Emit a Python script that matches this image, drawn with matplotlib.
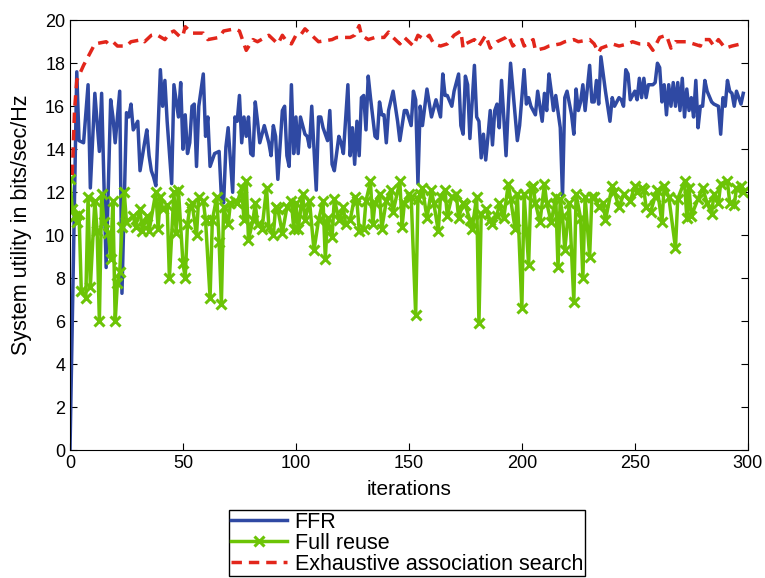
import matplotlib
matplotlib.use('Agg')
import matplotlib.pyplot as plt

plt.rcParams['font.family'] = ['Liberation Sans', 'DejaVu Sans']

# FFR (blue)
ffr_it = [0, 3, 4, 6, 8, 9, 11, 13, 14, 16, 18, 19, 20, 21, 22, 23, 25, 26, 27, 28,
          30, 31, 33, 34, 35, 36, 37, 38, 40, 41, 42, 43, 45, 46, 48, 49, 50, 51, 52, 53,
          54, 55, 56, 57, 59, 60, 61, 62, 64, 66, 67, 68, 69, 70, 72, 73, 74, 75, 76, 77,
          78, 79, 80, 81, 82, 83, 84, 86, 87, 88, 89, 90, 91, 92, 94, 95, 96, 97, 98, 99,
          100, 101, 102, 104, 105, 106, 107, 108, 109, 110, 111, 112, 114, 115, 116, 117, 119, 120, 121, 123,
          124, 125, 126, 127, 128, 129, 130, 131, 132, 133, 135, 136, 137, 138, 139, 140, 141, 143, 144, 145,
          146, 148, 149, 151, 152, 153, 154, 155, 156, 158, 160, 162, 164, 165, 166, 167, 169, 170, 172, 173,
          174, 175, 176, 177, 179, 180, 181, 182, 183, 184, 185, 186, 187, 188, 189, 190, 191, 192, 193, 194,
          195, 196, 198, 199, 201, 202, 203, 204, 206, 207, 209, 210, 211, 212, 213, 214, 215, 217, 218, 219,
          220, 222, 223, 224, 225, 226, 227, 228, 230, 231, 232, 233, 234, 235, 237, 239, 240, 241, 243, 244,
          245, 246, 247, 248, 250, 251, 252, 253, 254, 255, 256, 258, 259, 260, 261, 262, 263, 264, 265, 266,
          267, 268, 269, 270, 271, 272, 273, 274, 275, 276, 277, 278, 279, 280, 281, 282, 284, 285, 287, 288,
          289, 290, 291, 292, 293, 294, 295, 296, 297, 298]
ffr_val = [0, 17.6, 14.4, 14.3, 17.0, 12.2, 16.6, 13.9, 16.6, 8.5, 16.3, 15.5, 14.3, 15.5, 16.7, 7.3, 15.7, 15.5, 16.1, 14.9,
           15.3, 13.0, 14.3, 14.9, 13.7, 13.0, 12.7, 12.3, 17.7, 16.0, 17.2, 15.3, 12.4, 17.0, 15.5, 17.1, 14.0, 15.6, 13.8, 14.3,
           16.0, 16.1, 13.2, 16.0, 17.5, 14.6, 15.5, 13.2, 13.8, 13.9, 11.8, 11.5, 14.1, 15.0, 12.0, 15.5, 15.3, 16.5, 14.3, 15.5,
           14.6, 15.5, 13.8, 13.7, 16.2, 15.3, 14.3, 15.1, 14.7, 14.3, 13.7, 15.1, 14.6, 12.6, 15.8, 16.0, 13.7, 13.2, 17.0, 13.8,
           15.5, 13.8, 15.5, 14.7, 14.6, 14.1, 16.0, 14.0, 12.1, 15.5, 15.5, 15.0, 14.4, 15.8, 13.3, 13.0, 14.6, 14.3, 13.8, 17.0,
           13.7, 15.0, 13.3, 15.3, 13.7, 16.4, 16.5, 14.9, 17.4, 16.4, 14.6, 14.5, 16.2, 15.6, 15.6, 14.3, 15.8, 16.7, 16.0, 15.3,
           14.4, 15.8, 15.8, 15.1, 16.7, 16.3, 12.4, 16.0, 15.1, 16.8, 15.5, 16.3, 15.5, 17.5, 16.5, 16.5, 16.0, 16.7, 17.5, 15.1,
           14.7, 17.4, 17.0, 14.5, 17.9, 15.5, 15.3, 13.6, 14.7, 13.5, 14.6, 15.8, 14.2, 15.8, 16.1, 15.0, 17.2, 15.5, 13.7, 16.0,
           18.0, 16.8, 14.4, 15.1, 17.7, 16.1, 16.4, 16.0, 15.6, 16.7, 15.3, 16.6, 15.8, 17.5, 16.7, 15.8, 16.5, 15.0, 11.8, 16.4,
           16.7, 15.6, 14.7, 16.8, 15.8, 16.2, 17.0, 15.8, 17.9, 16.2, 16.2, 17.2, 16.1, 18.3, 16.7, 15.3, 16.4, 16.0, 16.4, 16.3,
           16.0, 17.7, 17.5, 16.3, 16.7, 16.3, 17.3, 16.4, 17.3, 16.4, 17.0, 17.0, 17.1, 18.0, 17.8, 16.2, 17.0, 15.6, 17.0, 16.0,
           17.1, 16.0, 17.1, 15.8, 17.3, 15.5, 16.8, 15.8, 16.4, 15.5, 17.2, 15.0, 16.0, 16.0, 17.2, 16.7, 16.2, 16.1, 16.0, 14.7,
           16.4, 16.0, 17.2, 16.7, 16.6, 16.0, 16.7, 16.4, 16.1, 16.6]

# Full reuse (green)
reuse_it = [0, 1, 2, 3, 4, 5, 7, 8, 9, 11, 12, 13, 14, 15, 17, 18, 19, 20, 21, 22,
            23, 24, 25, 28, 29, 31, 32, 34, 35, 38, 39, 40, 41, 43, 44, 46, 47, 48, 50, 51,
            52, 53, 54, 56, 57, 59, 60, 62, 63, 65, 66, 67, 68, 70, 71, 73, 74, 76, 77, 78,
            79, 81, 82, 83, 85, 87, 88, 90, 91, 92, 94, 96, 98, 99, 100, 101, 103, 104, 106, 108,
            110, 112, 113, 114, 116, 117, 119, 121, 122, 124, 126, 127, 128, 130, 131, 133, 134, 135, 137, 138,
            140, 142, 143, 146, 147, 148, 150, 151, 153, 154, 155, 156, 158, 160, 161, 163, 164, 166, 167, 169,
            171, 172, 174, 175, 177, 178, 180, 181, 182, 184, 186, 187, 189, 190, 192, 194, 195, 197, 198, 200,
            201, 203, 204, 205, 206, 208, 210, 211, 213, 215, 216, 217, 218, 219, 221, 223, 224, 226, 227, 228,
            230, 231, 232, 234, 236, 237, 240, 241, 243, 245, 248, 250, 251, 253, 254, 255, 257, 259, 260, 262,
            263, 265, 268, 269, 272, 273, 274, 275, 278, 280, 282, 284, 285, 287, 288, 291, 292, 294, 295, 297,
            298]
reuse_val = [12.6, 11.2, 10.9, 10.6, 11.0, 7.4, 7.1, 11.8, 7.6, 11.6, 10.2, 6.0, 11.9, 10.6, 10.1, 8.9, 11.6, 6.0, 7.8, 8.3,
             10.4, 12.0, 10.6, 10.9, 10.4, 11.2, 10.2, 10.9, 10.2, 12.0, 10.3, 11.8, 11.2, 11.4, 8.0, 12.0, 10.1, 12.1, 8.7, 8.0,
             10.5, 11.3, 11.5, 10.0, 11.8, 11.6, 10.7, 7.1, 10.7, 11.8, 9.7, 6.8, 11.3, 10.5, 11.5, 11.6, 11.5, 12.2, 10.7, 12.5,
             9.8, 10.7, 11.5, 10.5, 10.3, 12.2, 10.4, 10.0, 11.3, 11.2, 10.1, 11.3, 11.6, 10.3, 11.5, 10.3, 11.9, 10.7, 11.6, 9.3,
             10.7, 11.6, 8.9, 10.8, 9.9, 11.7, 10.7, 11.3, 10.5, 10.7, 11.8, 11.6, 10.2, 10.3, 11.6, 12.5, 10.5, 11.5, 11.9, 10.3,
             11.6, 12.1, 11.1, 12.5, 10.4, 11.5, 11.9, 11.8, 6.3, 11.7, 11.9, 12.2, 10.8, 12.1, 11.5, 10.2, 11.8, 12.1, 10.9, 11.8,
             11.9, 10.8, 11.5, 11.4, 10.7, 10.3, 11.8, 5.9, 11.0, 11.2, 10.7, 10.5, 10.9, 11.5, 10.8, 12.4, 11.7, 10.3, 11.9, 6.6,
             11.9, 8.6, 12.2, 12.3, 11.5, 10.6, 12.4, 11.5, 10.6, 11.8, 8.5, 11.7, 10.9, 9.3, 11.5, 6.9, 11.9, 10.8, 8.0, 11.8,
             9.0, 11.8, 11.8, 11.3, 11.5, 10.7, 12.3, 12.0, 11.3, 11.9, 11.6, 12.3, 12.0, 12.2, 12.1, 11.3, 11.1, 11.8, 12.1, 10.6,
             12.3, 11.8, 9.4, 11.7, 12.5, 10.8, 12.2, 10.9, 11.7, 12.2, 11.5, 11.0, 11.9, 11.5, 12.4, 12.5, 11.5, 11.4, 12.2, 12.3,
             12.0]

# Exhaustive association search (red)
exh_it = [1, 2, 3, 6, 8, 11, 16, 17, 19, 21, 25, 27, 32, 33, 36, 38, 42, 44, 46, 49,
          50, 51, 54, 59, 61, 66, 68, 73, 75, 77, 78, 81, 83, 88, 90, 92, 94, 96, 98, 100,
          102, 104, 108, 110, 116, 118, 124, 126, 128, 129, 132, 135, 139, 141, 143, 146, 148, 152, 154, 157,
          159, 161, 164, 167, 170, 173, 174, 175, 179, 181, 184, 186, 189, 193, 194, 196, 200, 201, 205, 206,
          210, 212, 217, 219, 223, 225, 230, 232, 234, 235, 240, 243, 247, 249, 252, 256, 258, 261, 264, 266,
          268, 273, 276, 279, 280, 283, 285, 287, 290, 293, 297, 298]
exh_val = [12.8, 15.8, 17.2, 17.9, 18.3, 18.9, 19.0, 18.9, 19.0, 18.8, 18.8, 19.0, 19.1, 19.0, 19.3, 19.35, 19.1, 19.4, 19.5, 19.2,
           19.3, 19.7, 19.4, 19.4, 19.1, 19.2, 19.5, 19.6, 19.5, 18.9, 18.6, 19.1, 19.0, 19.3, 19.1, 18.9, 19.3, 19.0, 18.9, 19.3,
           19.3, 19.6, 19.2, 19.0, 19.1, 19.2, 19.2, 19.3, 19.75, 19.3, 19.1, 19.2, 19.2, 19.45, 19.2, 18.9, 19.2, 18.8, 19.3, 19.1,
           19.3, 18.9, 18.8, 18.9, 19.3, 19.5, 18.7, 18.9, 19.1, 18.8, 19.3, 18.7, 19.0, 19.2, 19.3, 18.8, 19.1, 18.8, 19.1, 18.6,
           18.7, 18.8, 18.9, 19.0, 19.1, 19.0, 19.1, 18.9, 18.5, 18.7, 18.9, 18.8, 18.9, 19.0, 18.9, 18.9, 18.6, 19.2, 19.3, 18.7,
           19.0, 19.0, 18.9, 18.8, 19.1, 19.1, 18.8, 19.1, 18.7, 18.8, 18.9, 19.0]

fig = plt.figure(figsize=(7.65, 5.78), dpi=100)
ax = fig.add_axes([0.0915, 0.221, 0.886, 0.744])

ax.plot(ffr_it, ffr_val, color='#2f49a3', lw=2.5, label='FFR')
ax.plot(reuse_it, reuse_val, color='#6cc406', lw=2.5, marker='x', ms=7, mew=2.2, label='Full reuse')
ax.plot(exh_it, exh_val, color='#e2261b', lw=2.5, ls='--', dashes=(3, 2), label='Exhaustive association search')

ax.set_xlim(0, 300)
ax.set_ylim(0, 20)
ax.set_xticks(range(0, 301, 50))
ax.set_yticks(range(0, 21, 2))
ax.tick_params(direction='in', top=True, right=True, labelsize=13, length=5)
ax.set_xlabel('iterations', fontsize=15, labelpad=6)
ax.set_ylabel('System utility in bits/sec/Hz', fontsize=15.5)
ax.yaxis.set_label_coords(-0.056, 0.525)

fig.legend(loc='upper center', bbox_to_anchor=(0.532, 0.118), fontsize=15.5,
           fancybox=False, edgecolor='black', framealpha=1, handlelength=2.6,
           handletextpad=0.35, borderaxespad=0, labelspacing=0.0, borderpad=0.08)

fig.savefig('out.png', dpi=100)
